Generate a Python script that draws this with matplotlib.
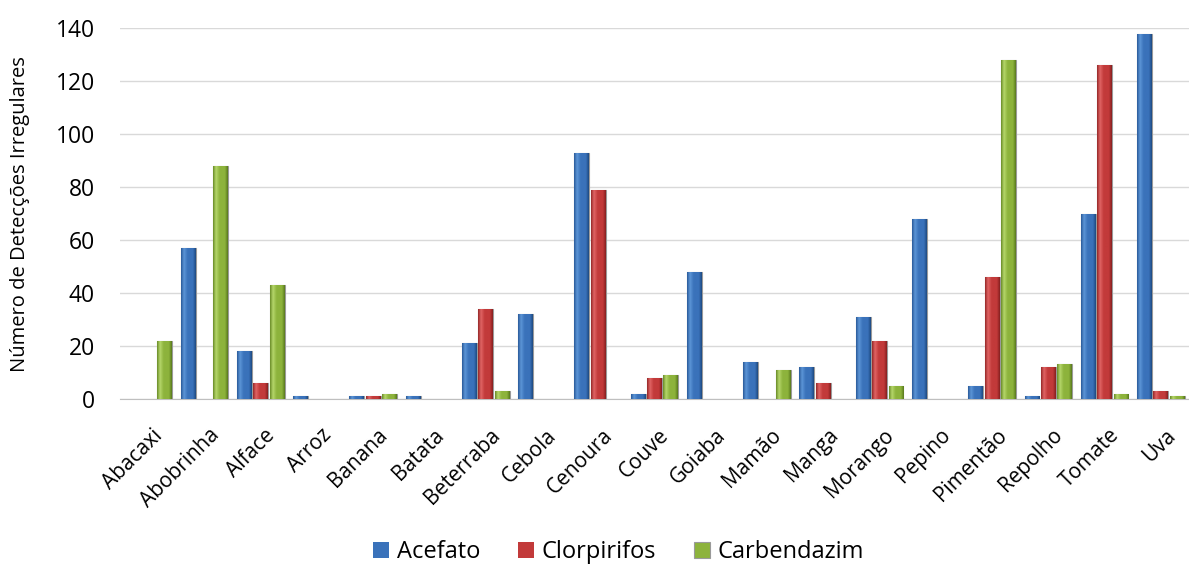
import numpy as np
import matplotlib
matplotlib.use("Agg")
import matplotlib.pyplot as plt
import matplotlib.transforms as mtransforms
from matplotlib.colors import LinearSegmentedColormap

categories = ["Abacaxi", "Abobrinha", "Alface", "Arroz", "Banana", "Batata", "Beterraba",
              "Cebola", "Cenoura", "Couve", "Goiaba", "Mamão", "Manga", "Morango",
              "Pepino", "Pimentão", "Repolho", "Tomate", "Uva"]
acefato = [0, 57, 18, 1, 1, 1, 21, 32, 93, 2, 48, 14, 12, 31, 68, 5, 1, 70, 138]
clorpirifos = [0, 0, 6, 0, 1, 0, 34, 0, 79, 8, 0, 0, 6, 22, 0, 46, 12, 126, 3]
carbendazim = [22, 88, 43, 0, 2, 0, 3, 0, 0, 9, 0, 11, 0, 5, 0, 128, 13, 2, 1]
series_names = ["Acefato", "Clorpirifos", "Carbendazim"]
yticks = [0, 20, 40, 60, 80, 100, 120, 140]

plt.rcParams['font.family'] = ['Open Sans', 'DejaVu Sans']

fig = plt.figure(figsize=(11.89, 5.65), dpi=100)
ax = fig.add_axes([0.101, 0.294, 0.899, 0.656])

series = [acefato, clorpirifos, carbendazim]
palettes = [("#2A5A9A", "#5C95D6", "#3A72BA", "#1E4A82"),
            ("#962828", "#E06464", "#C23A3A", "#862020"),
            ("#6A8C28", "#B5D66A", "#8DB33C", "#5A7A1E")]
base_colors = ["#3A72BA", "#C23A3A", "#8DB33C"]

x = np.arange(len(categories))
w = 0.265
offsets = [-w * 1.1, 0, w * 1.1]
grad = np.linspace(0, 1, 64).reshape(1, -1)

handles = []
for vals, off, pal, col, name in zip(series, offsets, palettes, base_colors, series_names):
    cmap = LinearSegmentedColormap.from_list(
        name, [(0, pal[0]), (0.2, pal[1]), (0.45, pal[2]), (0.8, pal[2]), (1, pal[3])])
    v = np.array(vals, dtype=float)
    lw = [0.8 if h > 0 else 0 for h in v]
    bars = ax.bar(x + off, v, width=w, color=col, edgecolor="#9a9a9a", linewidth=lw,
                  label=name, zorder=3)
    for b, h in zip(bars, v):
        if h <= 0:
            continue
        x0 = b.get_x()
        im = ax.imshow(grad, cmap=cmap, aspect="auto",
                       extent=(x0, x0 + b.get_width(), 0, h), zorder=3.5)
        im.set_clip_path(b)
    handles.append(bars)

ax.set_xlim(-0.5, len(categories) - 0.5)
ax.set_ylim(0, 140)
ax.set_yticks(yticks)
ax.set_yticklabels([str(t) for t in yticks], fontsize=16.5)
ax.set_xticks(x)
ax.set_xticklabels([])
# category labels, rotated 45 degrees
trans = ax.get_xaxis_transform() + mtransforms.ScaledTranslation(0.04, -0.26, fig.dpi_scale_trans)
for xi, c in zip(x, categories):
    ax.text(xi, 0, c, transform=trans, rotation=45, ha="right", va="top",
            rotation_mode="anchor", fontsize=15)
ax.tick_params(axis="both", length=0)
ax.tick_params(axis="y", pad=18)
ax.grid(axis="y", color="#d9d9d9", linewidth=1, zorder=0)
ax.set_axisbelow(True)
for s in ["top", "right", "left"]:
    ax.spines[s].set_visible(False)
ax.spines["bottom"].set_color("#bfbfbf")
ax.set_ylabel("Número de Detecções Irregulares", fontsize=14.5)
ax.yaxis.set_label_coords(-0.084, 0.5)

fig.legend(handles, series_names, loc="lower center", ncol=3, frameon=False,
           fontsize=17, bbox_to_anchor=(0.52, -0.036), handlelength=0.7,
           handleheight=0.7, columnspacing=1.6, handletextpad=0.3)

fig.savefig("out.png", dpi=100)
